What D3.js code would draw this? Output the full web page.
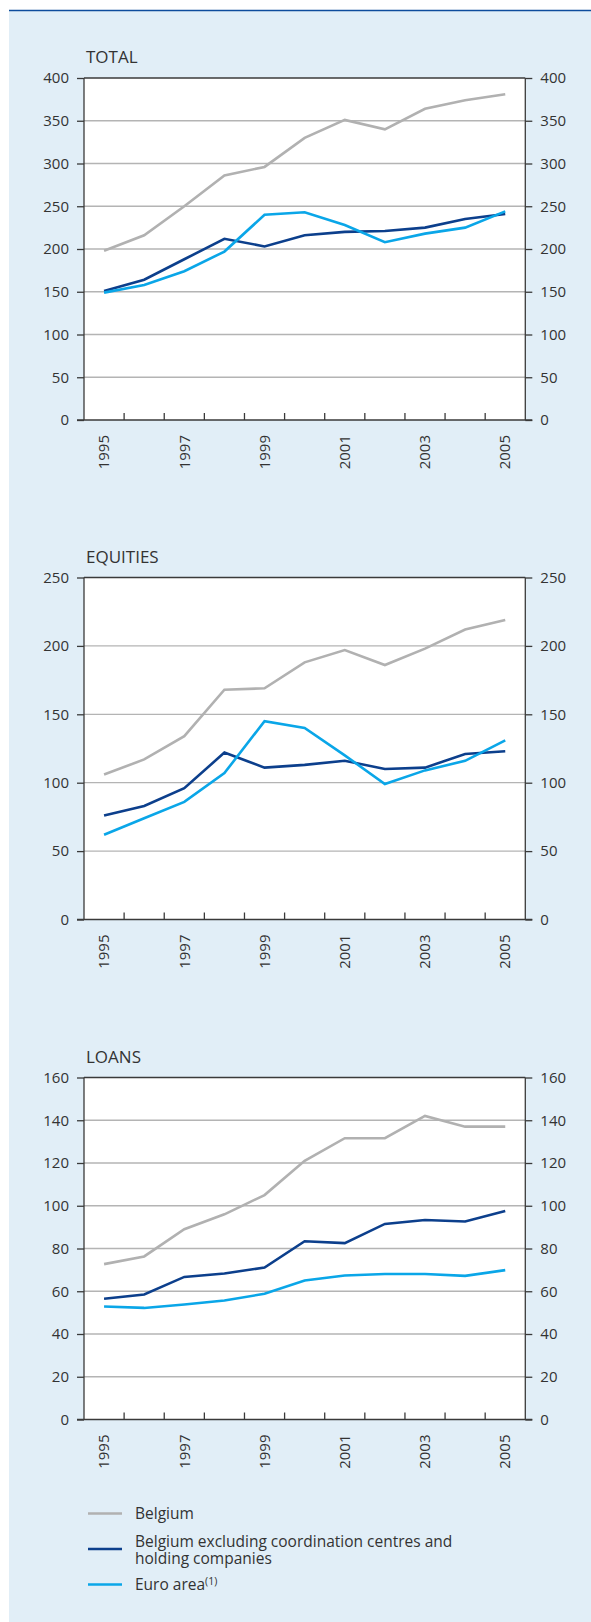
<!DOCTYPE html>
<html>
<head>
<meta charset="utf-8">
<script src="https://cdn.jsdelivr.net/npm/d3@7"></script>
<style>
  body { margin: 0; background: #fff; }
  svg { display: block; font-family: "Open Sans", sans-serif; }
</style>
</head>
<body>
<svg class="chart_svg" width="591" height="1622"></svg>
<script>
var years = [1995, 1996, 1997, 1998, 1999, 2000, 2001, 2002, 2003, 2004, 2005];
var yearLabels = [1995, 1997, 1999, 2001, 2003, 2005];

var seriesNames = ["Belgium", "Belgium excluding coordination centres and holding companies", "Euro area"];
var seriesColors = ["#b1b1b1", "#0c3f8c", "#0aa6e8"];

// TOTAL
var totalBelgium = [198, 216, 250, 286, 296, 330, 351, 340, 364, 374, 381];
var totalBelgiumExcl = [151, 164, 188, 212, 203, 216, 220, 221, 225, 235, 241];
var totalEuro = [149, 158, 174, 197, 240, 243, 228, 208, 218, 225, 244];
var totalTicks = [0, 50, 100, 150, 200, 250, 300, 350, 400];

// EQUITIES
var equitiesBelgium = [106, 117, 134, 168, 169, 188, 197, 186, 198, 212, 219];
var equitiesBelgiumExcl = [76, 83, 96, 122, 111, 113, 116, 110, 111, 121, 123];
var equitiesEuro = [62, 74, 86, 107, 145, 140, 120, 99, 109, 116, 131];
var equitiesTicks = [0, 50, 100, 150, 200, 250];

// LOANS
var loansBelgium = [72.7, 76.3, 89, 96, 105, 121, 131.6, 131.6, 142, 137, 137];
var loansBelgiumExcl = [56.5, 58.5, 66.7, 68.3, 71.1, 83.4, 82.5, 91.5, 93.3, 92.6, 97.5];
var loansEuro = [52.9, 52.2, 53.8, 55.7, 58.8, 65, 67.4, 68.1, 68.1, 67.2, 69.9];
var loansTicks = [0, 20, 40, 60, 80, 100, 120, 140, 160];

var svg = d3.select(".chart_svg");
var left = 84, right = 525.3, plotH = 342;
var axisColor = "#3a3a3a", gridColor = "#b4b4b4", textColor = "#333";

// background + top rule
svg.append("rect")
    .attr("x", 9).attr("y", 10)
    .attr("width", 582).attr("height", 1612)
    .attr("fill", "#e1eef7");
svg.append("line")
    .attr("x1", 9).attr("x2", 591)
    .attr("y1", 10.5).attr("y2", 10.5)
    .attr("stroke", "#0d4c9c")
    .attr("stroke-width", 1.6);

var x = d3.scaleBand().domain(years).range([left, right]);

function draw_panel(title, top, ticks, data) {
    var y = d3.scaleLinear()
        .domain([0, ticks[ticks.length - 1]])
        .range([top + plotH, top]);
    var g = svg.append("g");

    g.append("rect") // plot area
        .attr("x", left).attr("y", top)
        .attr("width", right - left).attr("height", plotH)
        .attr("fill", "#fff");

    g.selectAll(".grid")
        .data(ticks.slice(1, -1))
        .enter().append("line")
        .attr("x1", left).attr("x2", right)
        .attr("y1", function (d) { return y(d); })
        .attr("y2", function (d) { return y(d); })
        .attr("stroke", gridColor)
        .attr("stroke-width", 1.3);

    g.append("line") // top frame
        .attr("x1", left).attr("x2", right)
        .attr("y1", top).attr("y2", top)
        .attr("stroke", axisColor).attr("stroke-width", 1.3);

    var yl = g.append("g")
        .attr("transform", "translate(" + left + ",0)")
        .call(d3.axisLeft(y).tickValues(ticks).tickSize(7).tickPadding(8));
    var yr = g.append("g")
        .attr("transform", "translate(" + right + ",0)")
        .call(d3.axisRight(y).tickValues(ticks).tickSize(7).tickPadding(8));
    [yl, yr].forEach(function (a) {
        a.selectAll("path, line").attr("stroke", axisColor).attr("stroke-width", 1.3);
        a.select(".domain").attr("d", "M0," + (top + plotH) + "V" + top);
        a.selectAll("text")
            .attr("fill", textColor)
            .style("font-size", "15px")
            .style("font-family", "'Open Sans', sans-serif");
    });

    var base = top + plotH;
    g.append("line") // x axis
        .attr("x1", left - 7).attr("x2", right + 7)
        .attr("y1", base).attr("y2", base)
        .attr("stroke", axisColor).attr("stroke-width", 1.3);
    g.selectAll(".xtick")
        .data(years.slice(1))
        .enter().append("line")
        .attr("x1", function (d) { return x(d); })
        .attr("x2", function (d) { return x(d); })
        .attr("y1", base - 7).attr("y2", base)
        .attr("stroke", axisColor).attr("stroke-width", 1.3);
    g.selectAll(".xlabel")
        .data(yearLabels)
        .enter().append("text")
        .text(function (d) { return d; })
        .attr("transform", function (d) {
            return "translate(" + (x(d) + x.bandwidth() / 2) + "," + (base + 15) + ") rotate(-90)";
        })
        .attr("text-anchor", "end")
        .attr("dy", ".35em")
        .attr("fill", textColor)
        .style("font-size", "15px");

    g.append("text")
        .text(title)
        .attr("x", 86).attr("y", top - 15)
        .attr("fill", textColor)
        .style("font-size", "17px");

    var line = d3.line()
        .x(function (d, i) { return x(years[i]) + x.bandwidth() / 2; })
        .y(function (d) { return y(d); });
    data.forEach(function (s, i) {
        g.append("path")
            .attr("d", line(s))
            .attr("fill", "none")
            .attr("stroke", seriesColors[i])
            .attr("stroke-width", 2.6);
    });
}

draw_panel("TOTAL", 78, totalTicks, [totalBelgium, totalBelgiumExcl, totalEuro]);
draw_panel("EQUITIES", 577.5, equitiesTicks, [equitiesBelgium, equitiesBelgiumExcl, equitiesEuro]);
draw_panel("LOANS", 1077.5, loansTicks, [loansBelgium, loansBelgiumExcl, loansEuro]);

// legend
var legendY = [1513.5, 1549, 1584.5];
var legend = svg.append("g").style("font-size", "15.5px");
seriesNames.forEach(function (name, i) {
    legend.append("line")
        .attr("x1", 88).attr("x2", 122)
        .attr("y1", legendY[i]).attr("y2", legendY[i])
        .attr("stroke", seriesColors[i])
        .attr("stroke-width", 2.6);
});
legend.append("text")
    .text(seriesNames[0])
    .attr("x", 135).attr("y", legendY[0]).attr("dy", ".35em")
    .attr("fill", textColor);
// two-line label, baselines placed like the reference
legend.append("text")
    .text("Belgium excluding coordination centres and")
    .attr("x", 135).attr("y", legendY[1] - 2.5)
    .attr("fill", textColor);
legend.append("text")
    .text("holding companies")
    .attr("x", 135).attr("y", legendY[1] + 15)
    .attr("fill", textColor);
var t3 = legend.append("text")
    .attr("x", 135).attr("y", legendY[2]).attr("dy", ".35em")
    .attr("fill", textColor)
    .text(seriesNames[2]);
t3.append("tspan")
    .text("(1)")
    .attr("dy", "-0.45em")
    .style("font-size", "10.5px");
</script>
</body>
</html>
